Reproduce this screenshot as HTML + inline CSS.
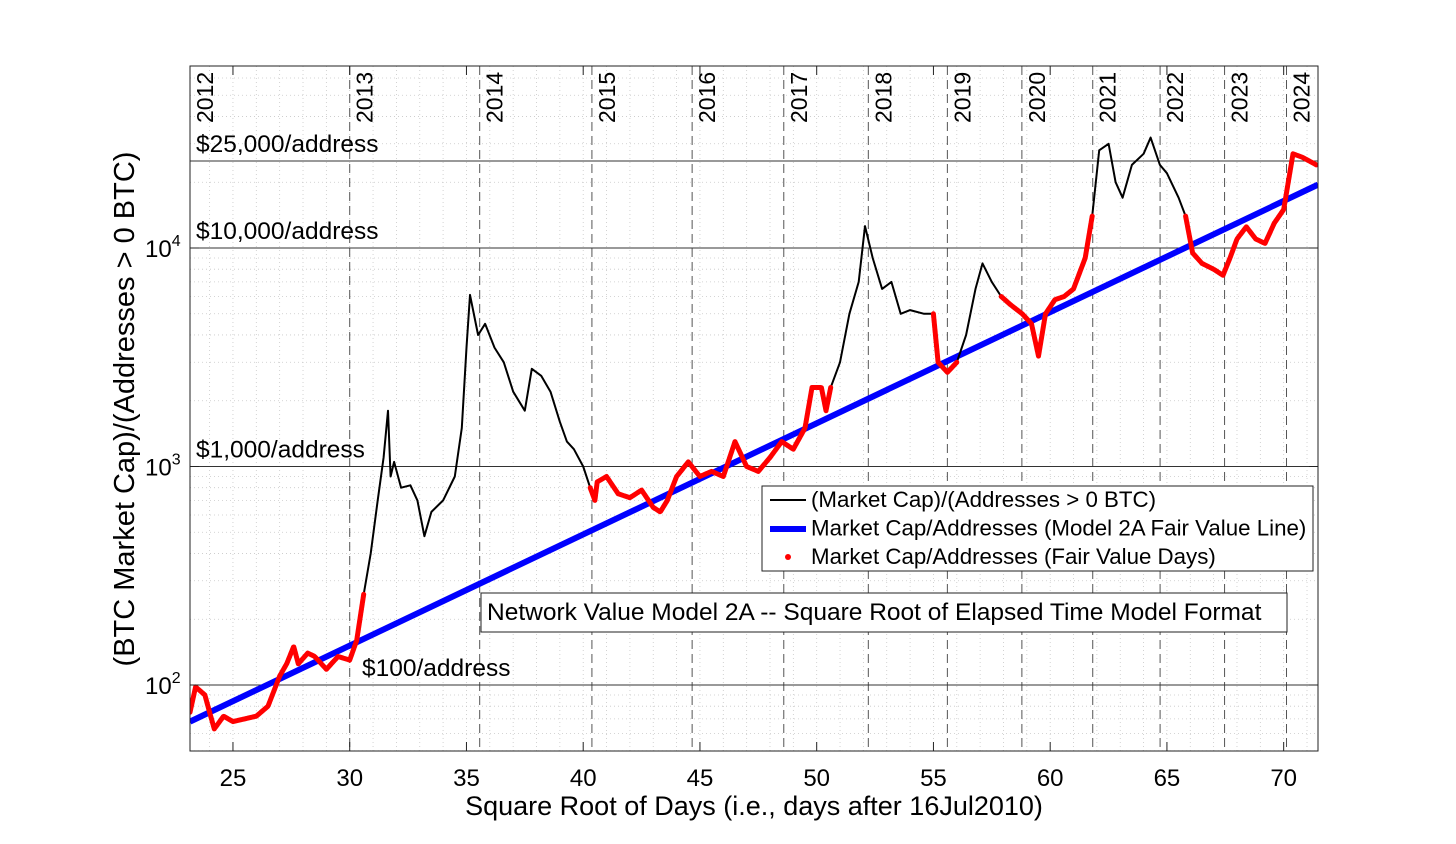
<!DOCTYPE html>
<html><head><meta charset="utf-8"><style>
body{margin:0;background:#fff;}
svg{display:block;font-family:"Liberation Sans",sans-serif;}
</style></head><body>
<svg id="c" width="1456" height="844" viewBox="0 0 1456 844"></svg>
<script>
const xs=[23.16,23.4,23.8,24.0,24.2,24.6,25,25.5,26,26.5,27,27.3,27.6,27.8,28.2,28.5,29,29.5,30,30.3,30.6,30.9,31.2,31.45,31.64,31.75,31.9,32.2,32.6,32.9,33.2,33.5,34,34.5,34.8,35,35.15,35.5,35.8,36.2,36.6,37,37.5,37.8,38.2,38.6,39,39.3,39.6,40,40.3,40.5,40.6,41,41.5,42,42.5,43,43.3,43.6,44,44.5,45,45.5,46,46.5,47,47.5,48,48.5,49,49.5,49.8,50.2,50.4,50.6,51,51.4,51.8,52.07,52.4,52.8,53.2,53.6,54,54.6,55,55.2,55.6,56,56.4,56.8,57.1,57.5,57.9,58.3,58.8,59.2,59.5,59.8,60.2,60.6,61,61.5,61.8,62.1,62.5,62.8,63.1,63.5,64,64.3,64.7,65,65.5,65.8,66.1,66.5,67,67.4,67.7,68,68.4,68.8,69.2,69.6,70,70.4,70.8,71.4];
const vals=[75,98,90,75,63,72,68,70,72,80,110,125,150,125,140,135,118,135,130,160,260,400,700,1100,1800,900,1050,800,820,700,480,620,700,900,1500,3500,6100,4000,4500,3500,3000,2200,1800,2800,2600,2200,1600,1300,1200,1000,800,700,850,900,750,720,780,650,620,700,900,1050,900,950,900,1300,1000,950,1100,1300,1200,1500,2300,2300,1800,2300,3000,5000,7000,12600,9000,6500,7000,5000,5200,5000,5000,3000,2700,3000,4000,6500,8500,7000,6000,5500,5000,4500,3200,5000,5800,6000,6500,9000,14000,28000,30000,20000,17000,24000,27000,32000,24000,22000,17000,14000,9500,8500,8000,7500,9000,11000,12500,11000,10500,13000,15000,27000,26000,24000];
const fairStart=[23.16,40.3,55.0,57.8,65.8];
const fairEnd=[30.8,50.8,56.2,61.8,71.4];
const fitX=[23.16,71.47];
const fitV=[68,19500];
const xTicks=[25,30,35,40,45,50,55,60,65,70];
const yearLabels=["2012","2013","2014","2015","2016","2017","2018","2019","2020","2021","2022","2023","2024"];
const yearDays=[534,900,1265,1630,1995,2361,2726,3091,3456,3822,4187,4552,4917];
const refVals=[100,1000,10000,25000];
const refLabels=["$100/address","$1,000/address","$10,000/address","$25,000/address"];

const L=190,R=1318,T=66,B=751,xmin=23.16,xmax=71.47,lmin=1.698,lmax=4.833;
const sx=v=>L+(v-xmin)/(xmax-xmin)*(R-L);
const sy=v=>B-(Math.log10(v)-lmin)/(lmax-lmin)*(B-T);
const svg=document.getElementById('c');
const NS="http://www.w3.org/2000/svg";
function mk(t,a,p){const e=document.createElementNS(NS,t);for(const k in a)e.setAttribute(k,a[k]);(p||svg).appendChild(e);return e;}
const clip=mk('clipPath',{id:'pc'});mk('rect',{x:L,y:T,width:R-L,height:B-T},clip);
for(let x=Math.ceil(xmin);x<=xmax;x++){const g=mk('line',{x1:sx(x),x2:sx(x),y1:T,y2:B,stroke:'#c8c8c8','stroke-width':0.8,'stroke-dasharray':'1,3'});

}
for(let d=1;d<=4;d++)for(let m=1;m<10;m++){const v=m*Math.pow(10,d);const y=sy(v);if(y<T||y>B)continue;const g=mk('line',{x1:L,x2:R,y1:y,y2:y,stroke:'#c8c8c8','stroke-width':0.8,'stroke-dasharray':'1,3'});

}
yearDays.forEach((d,i)=>{const x=sx(Math.sqrt(d));if(x>=L-1){const l=mk('line',{x1:x,x2:x,y1:T,y2:B,stroke:'#555','stroke-width':1,'stroke-dasharray':'9,5'});

}
const t=mk('text',{x:0,y:0,'font-size':23,transform:`translate(${Math.max(x,L)+23},${T+57}) rotate(-90)`});t.textContent=yearLabels[i];

});
refVals.forEach((v,i)=>{const y=sy(v);const l=mk('line',{x1:L,x2:R,y1:y,y2:y,stroke:'#333','stroke-width':1});


const t=mk('text',{x:i==0?362:196,y:y-9,'font-size':24.5});t.textContent=refLabels[i];

});
const fl=mk('line',{x1:sx(fitX[0]),y1:sy(fitV[0]),x2:sx(fitX[1]),y2:sy(fitV[1]),stroke:'#0000ff','stroke-width':6,'clip-path':'url(#pc)'});


const pts=xs.map((x,i)=>sx(x).toFixed(1)+','+sy(vals[i]).toFixed(1)).join(' ');
const bl=mk('polyline',{points:pts,fill:'none',stroke:'#000','stroke-width':2,'stroke-linejoin':'round','clip-path':'url(#pc)'});


fairStart.forEach((s,k)=>{const p=[];xs.forEach((x,i)=>{if(x>=s&&x<=fairEnd[k])p.push(sx(x).toFixed(1)+','+sy(vals[i]).toFixed(1));});
if(p.length<2)return;
const r=mk('polyline',{points:p.join(' '),fill:'none',stroke:'#ff0000','stroke-width':5,'stroke-linejoin':'round','stroke-linecap':'round','stroke-dasharray':'4,1','clip-path':'url(#pc)'});

});
const bx=mk('rect',{x:L,y:T,width:R-L,height:B-T,fill:'none',stroke:'#222','stroke-width':1});


xTicks.forEach(v=>{const x=sx(v);mk('line',{x1:x,x2:x,y1:B,y2:B-9,stroke:'#222'});mk('line',{x1:x,x2:x,y1:T,y2:T+9,stroke:'#222'});
const t=mk('text',{x:x,y:B+35,'font-size':24,'text-anchor':'middle'});t.textContent=v;

});
[2,3,4].forEach(e=>{const y=sy(Math.pow(10,e));mk('line',{x1:L,x2:L+9,y1:y,y2:y,stroke:'#222'});mk('line',{x1:R,x2:R-9,y1:y,y2:y,stroke:'#222'});
const t=mk('text',{x:145,y:y+9,'font-size':24});t.innerHTML='10<tspan font-size="16" dy="-11">'+e+'</tspan>';

});
const xt=mk('text',{x:754,y:815,'font-size':27,'text-anchor':'middle'});xt.textContent='Square Root of Days (i.e., days after 16Jul2010)';


const yt=mk('text',{x:0,y:0,'font-size':29,'text-anchor':'middle',transform:'translate(134,409) rotate(-90)'});yt.textContent='(BTC Market Cap)/(Addresses > 0 BTC)';


const lg=mk('g',{});
mk('rect',{x:762,y:486,width:551,height:85,fill:'#fff',stroke:'#222'},lg);
mk('line',{x1:770,x2:806,y1:500,y2:500,stroke:'#000','stroke-width':2},lg);
mk('line',{x1:770,x2:806,y1:529,y2:529,stroke:'#0000ff','stroke-width':6},lg);
mk('circle',{cx:788,cy:557,r:3,fill:'#ff0000'},lg);
['(Market Cap)/(Addresses > 0 BTC)','Market Cap/Addresses (Model 2A Fair Value Line)','Market Cap/Addresses (Fair Value Days)'].forEach((s,i)=>{const t=mk('text',{x:811,y:507+i*28.5,'font-size':22.3},lg);t.textContent=s;

});
const nb=mk('g',{});
mk('rect',{x:481,y:593,width:806,height:39,fill:'#fff',stroke:'#222'},nb);
const nt=mk('text',{x:487,y:620,'font-size':24.5},nb);nt.textContent='Network Value Model 2A -- Square Root of Elapsed Time Model Format';
</script>
</body></html>
